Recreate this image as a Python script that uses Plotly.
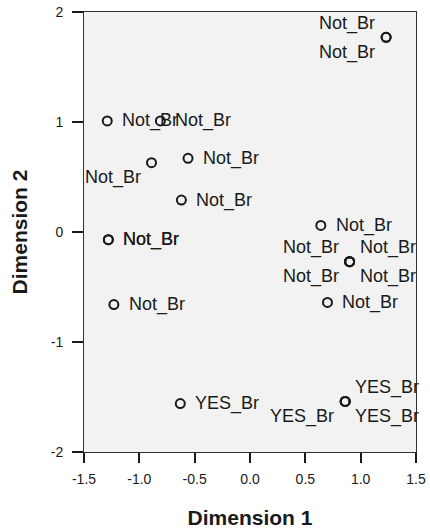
import plotly.graph_objects as go

# object points (Dimension 1, Dimension 2) and their labels
dim1 = [1.23, 1.23, -1.29, -0.81, -0.56, -0.89, -0.62, -1.28, -1.28, -1.23,
        0.64, 0.90, 0.90, 0.90, 0.90, 0.70, -0.63, 0.86, 0.86, 0.86]
dim2 = [1.77, 1.77, 1.01, 1.01, 0.67, 0.63, 0.29, -0.07, -0.07, -0.66,
        0.06, -0.27, -0.27, -0.27, -0.27, -0.64, -1.56, -1.54, -1.54, -1.54]
labels = ["Not_Br", "Not_Br", "Not_Br", "Not_Br", "Not_Br", "Not_Br", "Not_Br", "Not_Br", "Not_Br", "Not_Br",
          "Not_Br", "Not_Br", "Not_Br", "Not_Br", "Not_Br", "Not_Br", "YES_Br", "YES_Br", "YES_Br", "YES_Br"]

x_ticks = [-1.5, -1.0, -0.5, 0.0, 0.5, 1.0, 1.5]
y_ticks = [-2, -1, 0, 1, 2]

# where each label sits relative to its point
text_pos = ["top left", "bottom left", "middle right", "middle right", "middle right", "bottom left",
            "middle right", "middle right", "middle right", "middle right", "middle right",
            "top left", "top right", "bottom left", "bottom right", "middle right",
            "middle right", "top right", "bottom left", "bottom right"]

font = "Liberation Sans, Arial, sans-serif"

fig = go.Figure()
fig.add_trace(go.Scatter(
    x=dim1,
    y=dim2,
    mode='markers',
    marker=dict(symbol='circle-open', size=9, color='#1a1a1a', line=dict(width=2, color='#1a1a1a')),
    cliponaxis=False,
    hoverinfo='skip',
    showlegend=False
))

# point labels as annotations so the gap to the marker can be set like the original
for x, y, lab, pos in zip(dim1, dim2, labels, text_pos):
    vert, horiz = pos.split()
    if horiz == 'right':
        xanchor, xshift = 'left', (13 if vert == 'middle' else 8)
    else:
        xanchor, xshift = 'right', -9
    yshift = {'top': 14, 'middle': 0, 'bottom': -15}[vert]
    fig.add_annotation(
        x=x, y=y, text=lab, showarrow=False,
        xanchor=xanchor, yanchor='middle', xshift=xshift, yshift=yshift,
        font=dict(family=font, size=18, color='#1a1a1a'),
    )

fig.update_layout(
    width=430,
    height=532,
    margin=dict(l=84, r=14, t=12, b=80),
    paper_bgcolor='white',
    plot_bgcolor='#f1f2f1',
    font=dict(family=font, size=14, color='#1a1a1a'),
    xaxis=dict(
        range=[-1.5, 1.5],
        tickvals=x_ticks,
        ticktext=[f"{v:.1f}" for v in x_ticks],
        ticks='outside', ticklen=10, tickwidth=1.5, tickcolor='#1a1a1a',
        ticklabelstandoff=4,
        showgrid=False, zeroline=False, automargin=False,
        showline=True, linecolor='#333333', linewidth=1, mirror=True,
        title=dict(text='<b>Dimension 1</b>', font=dict(size=21, family=font), standoff=24),
    ),
    yaxis=dict(
        range=[-2, 2],
        tickvals=y_ticks,
        ticktext=[str(v) for v in y_ticks],
        ticks='outside', ticklen=11, tickwidth=1.5, tickcolor='#1a1a1a',
        ticklabelstandoff=6,
        showgrid=False, zeroline=False, automargin=False,
        showline=True, linecolor='#333333', linewidth=1, mirror=True,
        title=dict(text='<b>Dimension 2</b>', font=dict(size=21, family=font), standoff=17),
    ),
)

# drop the page's default 8px body margin so the figure fills the window
fig.write_html("out.html", config={'displayModeBar': False},
               post_script="document.body.style.margin='0';")
